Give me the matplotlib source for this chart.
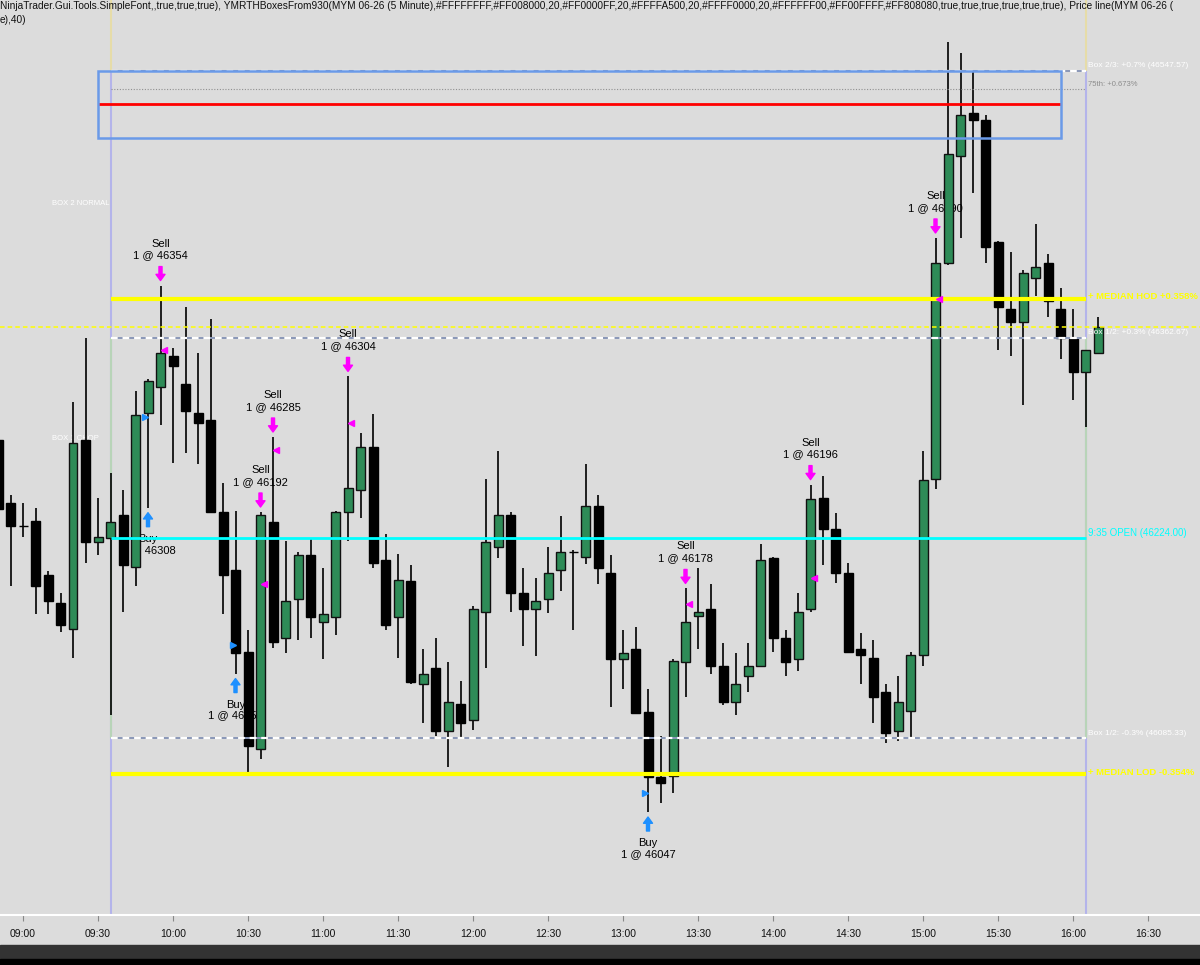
import numpy as np
import matplotlib.pyplot as plt
from matplotlib.patches import Rectangle

plt.rcParams['font.family'] = ['Liberation Sans', 'DejaVu Sans']

# 5 minute bars, index 0 = 09:00
bar_index = list(range(-2, 87))
opens = [46292, 46248, 46232, 46236, 46198, 46179, 46161, 46292, 46221, 46224,
         46240, 46204, 46311, 46329, 46350, 46331, 46311, 46306, 46242, 46202,
         46145, 46078, 46235, 46155, 46182, 46212, 46166, 46169, 46242, 46257,
         46287, 46209, 46169, 46194, 46123, 46134, 46090, 46109, 46098, 46173,
         46218, 46240, 46186, 46175, 46182, 46202, 46214, 46211, 46246, 46200,
         46140, 46147, 46103, 46058, 46059, 46138, 46170, 46175, 46135, 46110,
         46128, 46135, 46210, 46155, 46140, 46175, 46252, 46230, 46200, 46147,
         46141, 46117, 46090, 46104, 46143, 46265, 46415, 46489, 46519, 46514,
         46429, 46383, 46374, 46404, 46415, 46383, 46362, 46339, 46352]
highs = [46295, 46254, 46248, 46245, 46201, 46186, 46318, 46363, 46252, 46269,
         46257, 46326, 46334, 46399, 46356, 46384, 46352, 46376, 46262, 46243,
         46160, 46242, 46294, 46222, 46214, 46223, 46203, 46243, 46336, 46297,
         46310, 46227, 46213, 46205, 46147, 46155, 46138, 46125, 46177, 46265,
         46284, 46242, 46203, 46196, 46218, 46239, 46216, 46275, 46254, 46212,
         46160, 46162, 46119, 46087, 46140, 46189, 46203, 46192, 46151, 46144,
         46151, 46220, 46211, 46160, 46186, 46261, 46267, 46241, 46207, 46158,
         46153, 46123, 46128, 46145, 46284, 46432, 46568, 46560, 46548, 46517,
         46430, 46422, 46410, 46442, 46421, 46397, 46383, 46354, 46377]
lows = [46240, 46191, 46225, 46171, 46171, 46159, 46141, 46207, 46212, 46101,
        46173, 46191, 46245, 46302, 46276, 46283, 46275, 46241, 46171, 46130,
        46061, 46071, 46148, 46144, 46153, 46155, 46140, 46157, 46222, 46238,
        46203, 46160, 46141, 46123, 46096, 46087, 46065, 46085, 46091, 46134,
        46210, 46173, 46149, 46142, 46172, 46187, 46160, 46206, 46192, 46107,
        46119, 46103, 46034, 46040, 46047, 46114, 46147, 46130, 46108, 46101,
        46117, 46135, 46145, 46128, 46132, 46173, 46205, 46193, 46145, 46123,
        46096, 46082, 46083, 46086, 46135, 46258, 46413, 46432, 46463, 46415,
        46354, 46350, 46316, 46392, 46377, 46348, 46320, 46301, 46352]
closes = [46244, 46232, 46232, 46191, 46180, 46164, 46290, 46221, 46225, 46235,
          46205, 46309, 46333, 46352, 46343, 46312, 46304, 46242, 46198, 46144,
          46080, 46240, 46152, 46180, 46212, 46169, 46171, 46242, 46259, 46287,
          46207, 46164, 46195, 46124, 46130, 46090, 46110, 46096, 46175, 46221,
          46240, 46186, 46175, 46180, 46200, 46214, 46214, 46246, 46203, 46140,
          46144, 46103, 46058, 46054, 46139, 46166, 46173, 46135, 46110, 46123,
          46135, 46209, 46155, 46138, 46173, 46251, 46230, 46200, 46145, 46143,
          46114, 46089, 46110, 46143, 46264, 46415, 46490, 46517, 46514, 46426,
          46384, 46374, 46408, 46412, 46388, 46363, 46339, 46354, 46370]

time_labels = ['09:00', '09:30', '10:00', '10:30', '11:00', '11:30', '12:00', '12:30',
               '13:00', '13:30', '14:00', '14:30', '15:00', '15:30', '16:00', '16:30']

# executions
trade_bars = [10, 11, 17, 19, 20, 26, 50, 53, 63, 73]
trade_sides = ['Buy', 'Sell', 'Buy', 'Sell', 'Sell', 'Sell', 'Buy', 'Sell', 'Sell', 'Sell']
trade_qty = [5, 1, 1, 1, 1, 1, 1, 1, 1, 1]
trade_prices = [46308, 46354, 46150, 46192, 46285, 46304, 46047, 46178, 46196, 46390]

# indicator levels
open_935 = 46224.00
box12_up = 46362.67
box12_dn = 46085.33
box23_up = 46547.57
pct_75th = 0.673
hod_pct = 0.358
lod_pct = -0.354
box_top = 46547.57
box_bottom = 46501
red_level = 46525
session_start, session_end = 7, 85
box_start, box_end = 6, 83

bg = '#dcdcdc'
green = '#2e8b57'
magenta = '#ff00ff'
blue = '#1e90ff'

fig = plt.figure(figsize=(12, 9.65), dpi=100, facecolor=bg)
ax = fig.add_axes([0, 50 / 965, 1, 915 / 965])
ax.set_facecolor(bg)
ax.set_xlim(-1.84, 94.16)
ax.set_ylim(45962.6, 46597.0)

x = np.array(bar_index)
o = np.array(opens, dtype=float)
h = np.array(highs, dtype=float)
l = np.array(lows, dtype=float)
c = np.array(closes, dtype=float)
up = (c > o)

# candles
ax.vlines(x, l, h, color='black', lw=1.2, zorder=3)
body_lo = np.minimum(o, c)
body_h = np.maximum(np.abs(c - o), 0.6)
ax.bar(x[up], body_h[up], bottom=body_lo[up], width=0.72, color=green,
       edgecolor='#111111', lw=1, zorder=4)
ax.bar(x[~up], body_h[~up], bottom=body_lo[~up], width=0.72, color='black',
       edgecolor='black', lw=1, zorder=4)

# session lines
ax.vlines([session_start, session_end], 45900, box_top, color='#b4b4ea', lw=1.5, zorder=1)
ax.vlines([session_start, session_end], box_top, 46700, color='#e6dca8', lw=1.5, zorder=1)
ax.vlines([session_start, session_end], box12_dn, box12_up, color='#b8d4b8', lw=1.5, zorder=1)

# levels
def dashed_level(y):
    ax.hlines(y, session_start, session_end, color='#8a98b8', lw=1.4, zorder=5)
    ax.hlines(y, session_start, session_end, color='white', lw=1.6, linestyles=(0, (3, 2.2)), zorder=5)

dashed_level(box23_up)
dashed_level(box12_up)
dashed_level(box12_dn)
lvl_75 = open_935 * (1 + pct_75th / 100)
ax.hlines(lvl_75, session_start, session_end, color='#909090', lw=0.8, linestyles=(0, (1, 1.5)), zorder=5)
hod = open_935 * (1 + hod_pct / 100)
lod = open_935 * (1 + lod_pct / 100)
ax.hlines([hod, lod], session_start, session_end, color='#ffff00', lw=3, zorder=5)
ax.hlines(open_935, session_start, session_end, color='#00ffff', lw=2, zorder=5)
ax.axhline(closes[-1], color='#ffff00', lw=1.1, linestyle=(0, (3, 2)), zorder=5)

ax.hlines(red_level, box_start, box_end, color='#ff0000', lw=2, zorder=6)
ax.add_patch(Rectangle((box_start, box_bottom), box_end - box_start, box_top - box_bottom,
                       fill=False, edgecolor='#6a9ae8', lw=1.8, zorder=6))

# right labels
labels = [
    (box23_up, f'Box 2/3: +0.7% ({box23_up:.2f})', 'white', 6, 4.3, 'normal'),
    (lvl_75, f'75th: +{pct_75th:.3f}%', '#8c8c8c', 5.5, 3.6, 'normal'),
    (hod, f'+ MEDIAN HOD +{hod_pct:.3f}%', '#ffff00', 6.8, 2.0, 'semibold'),
    (box12_up, f'Box 1/2: +0.3% ({box12_up:.2f})', 'white', 6, 4.3, 'normal'),
    (open_935, f'9:35 OPEN ({open_935:.2f})', '#00ffff', 7, 3.6, 'normal'),
    (box12_dn, f'Box 1/2: -0.3% ({box12_dn:.2f})', 'white', 6, 2.9, 'normal'),
    (lod, f'+ MEDIAN LOD {lod_pct:.3f}%', '#ffff00', 6.8, 1.2, 'semibold'),
]
for y, t, col, fs, dy, wt in labels:
    ax.annotate(t, xy=(session_end, y), xytext=(2, dy), textcoords='offset points',
                color=col, fontsize=fs, va='center', ha='left', zorder=7,
                fontweight=wt, annotation_clip=False)

ax.text(2.3, 46456, 'BOX 2 NORMAL', color='white', fontsize=5.5, va='center', zorder=2)
ax.text(2.3, 46293, 'BOX 1 CHOP', color='white', fontsize=5.5, va='center', zorder=2)

# executions
arrow_style = 'simple,head_length=0.45,head_width=0.65,tail_width=0.22'
for b, side, q, p in zip(trade_bars, trade_sides, trade_qty, trade_prices):
    i = bar_index.index(b)
    if side == 'Sell':
        anchor = highs[i]
        col = magenta
        sgn = 1
        ax.annotate('%d @ %d' % (q, p), xy=(b, anchor), xytext=(0, 30 * 0.72),
                    textcoords='offset points', ha='center', va='center', fontsize=8, zorder=2)
        ax.annotate(side, xy=(b, anchor), xytext=(0, 42 * 0.72),
                    textcoords='offset points', ha='center', va='center', fontsize=8, zorder=2)
        ax.plot(b + 0.25, p, marker='<', color=col, ms=5, mec=col, zorder=8)
    else:
        anchor = lows[i]
        col = blue
        sgn = -1
        ax.annotate(side, xy=(b, anchor), xytext=(0, -31 * 0.72),
                    textcoords='offset points', ha='center', va='center', fontsize=8, zorder=2)
        ax.annotate('%d @ %d' % (q, p), xy=(b, anchor), xytext=(0, -42 * 0.72),
                    textcoords='offset points', ha='center', va='center', fontsize=8, zorder=2)
        ax.plot(b - 0.22, p, marker='>', color=col, ms=5, mec=col, zorder=8)
    ax.annotate('', xy=(b, anchor), xytext=(0, sgn * 19 * 0.72), textcoords='offset points',
                arrowprops=dict(arrowstyle=arrow_style, fc=col, ec=col, shrinkA=0,
                                shrinkB=5 * 0.72, mutation_scale=10),
                zorder=2)

ax.set_xticks(np.arange(len(time_labels)) * 6)
ax.set_xticklabels(time_labels, fontsize=7.5)
ax.tick_params(axis='x', length=4, color='#888888', pad=6, labelcolor='#111111')
ax.set_yticks([])
for s in ['top', 'left', 'right']:
    ax.spines[s].set_visible(False)
ax.spines['bottom'].set_color('white')
ax.spines['bottom'].set_linewidth(1.5)

# header text
fig.text(0.0, 1 - 1 / 965,
         'NinjaTrader.Gui.Tools.SimpleFont,,true,true,true), YMRTHBoxesFrom930(MYM 06-26 (5 Minute),'
         '#FFFFFFFF,#FF008000,20,#FF0000FF,20,#FFFFA500,20,#FFFF0000,20,#FFFFFF00,#FF00FFFF,#FF808080,'
         'true,true,true,true,true,true), Price line(MYM 06-26 (',
         fontsize=7.3, va='top', ha='left', color='#111111')
fig.text(0.0, 1 - 15 / 965, 'e),40)', fontsize=7.3, va='top', ha='left', color='#111111')

# bottom strip
fig.patches.append(Rectangle((0, 6 / 965), 1, 14 / 965, transform=fig.transFigure,
                             color='#333333', zorder=0))
fig.patches.append(Rectangle((0, 0), 1, 6 / 965, transform=fig.transFigure,
                             color='black', zorder=0))

fig.savefig('out.png', dpi=100, facecolor=bg)
plt.close()
